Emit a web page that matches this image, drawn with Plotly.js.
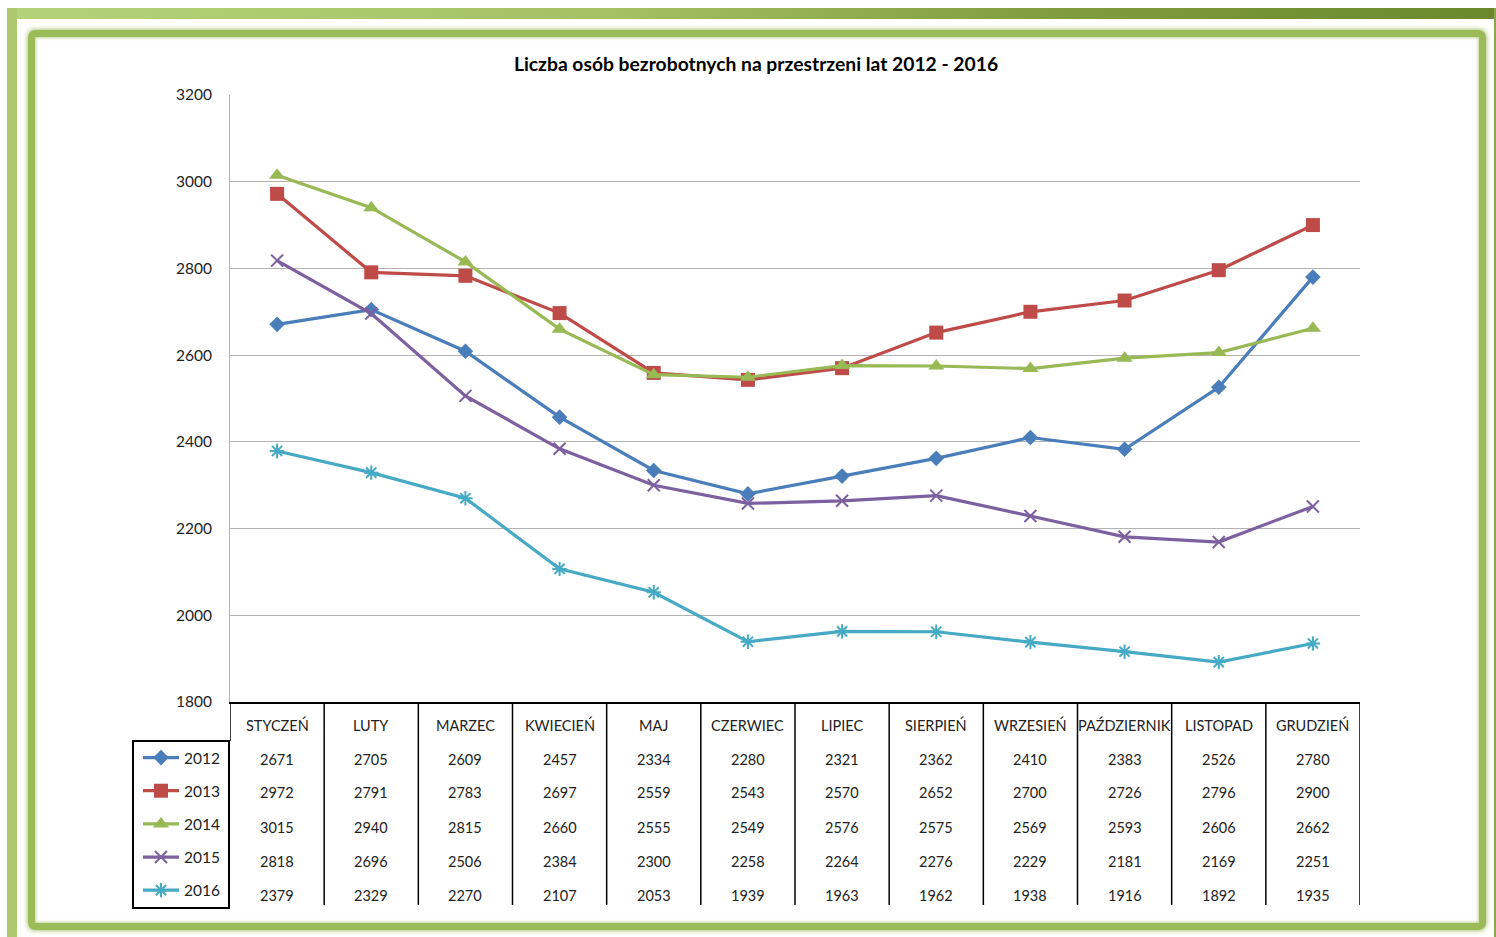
<!DOCTYPE html>
<html>
<head>
<meta charset="utf-8">
<script src="https://cdn.plot.ly/plotly-3.0.1.min.js"></script>
<style>
html, body { margin:0; padding:0; background:#ffffff; width:1496px; height:937px; overflow:hidden; position:relative; }
#topbar { position:absolute; left:7px; top:8px; width:1489px; height:11px;
  background:linear-gradient(to right, #b4d27a 0%, #a4c264 40%, #7f9d3c 70%, #6a892e 100%); }
#leftbar { position:absolute; left:7px; top:8px; width:10px; height:929px; background:#adc96f; }
#rightline { position:absolute; left:1494px; top:8px; width:2px; height:929px; background:#8aa84a; }
#inner { position:absolute; left:28px; top:30px; width:1444px; height:886px;
  border:7px solid #9bbb59; border-radius:7px;
  box-shadow: 0 0 4px 1px rgba(155,187,89,0.8), inset 0 0 3px 1px rgba(155,187,89,0.6); }
#chart { position:absolute; left:0; top:0; width:1496px; height:937px; }
</style>
</head>
<body>
<div id="topbar"></div>
<div id="leftbar"></div>
<div id="rightline"></div>
<div id="inner"></div>
<div id="chart"></div>
<script>
const months = ["STYCZEŃ","LUTY","MARZEC","KWIECIEŃ","MAJ","CZERWIEC","LIPIEC","SIERPIEŃ","WRZESIEŃ","PAŹDZIERNIK","LISTOPAD","GRUDZIEŃ"];
const years = ["2012","2013","2014","2015","2016"];
const v2012 = [2671,2705,2609,2457,2334,2280,2321,2362,2410,2383,2526,2780];
const v2013 = [2972,2791,2783,2697,2559,2543,2570,2652,2700,2726,2796,2900];
const v2014 = [3015,2940,2815,2660,2555,2549,2576,2575,2569,2593,2606,2662];
const v2015 = [2818,2696,2506,2384,2300,2258,2264,2276,2229,2181,2169,2251];
const v2016 = [2379,2329,2270,2107,2053,1939,1963,1962,1938,1916,1892,1935];
const yTicks = [1800,2000,2200,2400,2600,2800,3000,3200];

const series = [v2012, v2013, v2014, v2015, v2016];
const colors = ["#4a7ebb","#be4b48","#98b954","#7d60a0","#46aac5"];
const symbols = ["diamond","square","triangle-up","x-thin","asterisk"];
const sizes = [12,14,14,12,12];

const FONT = "Lato, 'Open Sans', sans-serif";
const W = 1496, H = 937;
const L = 230, R = 1360, T = 95, B = 702;
const ph = B - T;
const py = p => (B - p) / ph;            // pixel y -> paper y
const pxp = p => (p - L) / (R - L);      // pixel x -> paper x

const traces = series.map((vals, k) => ({
  type: "scatter", mode: "lines+markers",
  x: months.map((m, i) => i), y: vals, name: years[k],
  legendgroup: years[k],
  line: {color: colors[k], width: 3.2},
  marker: {symbol: symbols[k], size: sizes[k], color: colors[k],
           line: {color: colors[k], width: (k >= 3 ? 2 : 0)}},
  hoverinfo: "skip"
}));

const annotations = [];
const headerY = py(725);
const rowY = [759, 793, 827, 861, 895].map(py);
months.forEach((m, i) => {
  annotations.push({xref: "x", yref: "paper", x: i, y: headerY, text: m, showarrow: false,
    font: {family: FONT, size: 14.5, color: "#222"}, xanchor: "center", yanchor: "middle"});
  series.forEach((vals, k) => {
    annotations.push({xref: "x", yref: "paper", x: i, y: rowY[k], text: String(vals[i]), showarrow: false,
      font: {family: FONT, size: 14.5, color: "#222"}, xanchor: "center", yanchor: "middle"});
  });
});

const shapes = [];
for (let i = 1; i <= months.length; i++) {
  shapes.push({type: "line", xref: "x", yref: "paper", x0: i - 0.5, x1: i - 0.5, y0: 0, y1: py(905),
    line: {color: "#000", width: 1.5}});
}
shapes.push({type: "line", xref: "x", yref: "paper", x0: -0.5, x1: -0.5, y0: 0, y1: py(741),
  line: {color: "#000", width: 1.5}});
shapes.push({type: "rect", xref: "paper", yref: "paper", x0: pxp(133), x1: pxp(229), y0: py(741), y1: py(908),
  line: {color: "#000", width: 2}});

const layout = {
  width: W, height: H,
  margin: {l: L, r: W - R, t: T, b: H - B, pad: 0},
  paper_bgcolor: "rgba(0,0,0,0)", plot_bgcolor: "rgba(0,0,0,0)",
  font: {family: FONT, size: 14, color: "#222"},
  title: {text: "<b>Liczba osób bezrobotnych na przestrzeni lat 2012 - 2016</b>",
    x: 756 / W, xref: "container", xanchor: "center", y: 1 - 64 / H, yref: "container", yanchor: "middle",
    font: {family: FONT, size: 19.3, color: "#000"}},
  xaxis: {range: [-0.5, 11.5], showticklabels: false, showgrid: false, zeroline: false,
    showline: true, linecolor: "#000", linewidth: 1.5, ticks: "", fixedrange: true},
  yaxis: {range: [1800, 3200], tickvals: yTicks, ticktext: yTicks.map(String), showgrid: true,
    gridcolor: "#b3b3b3", gridwidth: 1, zeroline: false, showline: true, linecolor: "#b3b3b3", linewidth: 1,
    ticks: "", ticklabelstandoff: 14, tickfont: {family: FONT, size: 15.5, color: "#222"}, fixedrange: true},
  showlegend: true,
  legend: {x: pxp(138), xanchor: "left", y: py(741), yanchor: "top", orientation: "v",
    bgcolor: "rgba(0,0,0,0)", borderwidth: 0, tracegroupgap: 10, traceorder: "grouped",
    itemwidth: 36,
    font: {family: FONT, size: 15.5, color: "#222"}},
  annotations: annotations,
  shapes: shapes
};

Plotly.newPlot("chart", traces, layout, {displayModeBar: false, staticPlot: true});
</script>
</body>
</html>
